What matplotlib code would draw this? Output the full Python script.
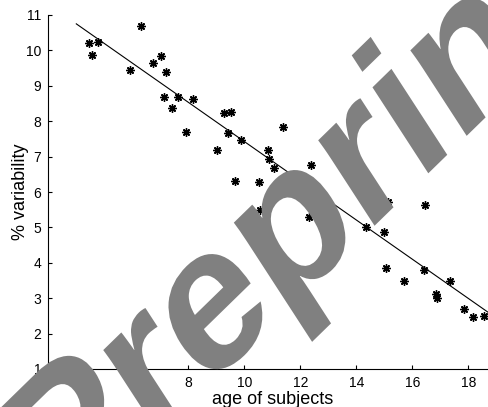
import numpy as np
import matplotlib
matplotlib.use('Agg')
import matplotlib.pyplot as plt
from matplotlib.textpath import TextPath
from matplotlib.font_manager import FontProperties
from matplotlib.patches import PathPatch
from matplotlib.transforms import Affine2D, IdentityTransform

plt.rcParams['font.family'] = ['Liberation Sans', 'DejaVu Sans']

# measured points (age, % variability)
age = [4.45, 4.56, 4.79, 5.92, 6.32, 6.74, 7.01, 7.19, 7.13, 7.64,
       7.41, 8.17, 7.93, 9.04, 9.28, 9.53, 9.43, 9.88, 9.67, 11.39,
       10.86, 10.88, 11.07, 12.38, 10.53, 16.45, 15.14, 10.56, 12.32, 14.34,
       14.99, 15.05, 15.71, 16.43, 17.35, 16.86, 16.87, 17.84, 18.18, 18.55]
variability = [10.22, 9.88, 10.25, 9.44, 10.69, 9.64, 9.85, 9.38, 8.69, 8.68,
               8.36, 8.64, 7.69, 7.19, 8.24, 8.27, 7.68, 7.46, 6.30, 7.84,
               7.19, 6.94, 6.69, 6.75, 6.27, 5.64, 5.73, 5.49, 5.30, 5.00,
               4.87, 3.86, 3.49, 3.81, 3.49, 3.12, 3.00, 2.70, 2.48, 2.49]

# regression line end points
fit_x = [4.0, 19.0]
fit_y = [10.75, 2.44]

xticks = [4, 6, 8, 10, 12, 14, 16, 18]
yticks = [1, 2, 3, 4, 5, 6, 7, 8, 9, 10, 11]

W, H = 489, 407
fig = plt.figure(figsize=(W / 100, H / 100), dpi=100)
ax = fig.add_axes([48.3 / W, 38 / H, (496.3 - 48.3) / W, (392 - 38) / H])

ax.plot(fit_x, fit_y, color='k', lw=0.8)
ax.plot(age, variability, ls='none', marker=(8, 2, 0), ms=6, mew=1.0,
        color='k')

ax.set_xlim(3, 19)
ax.set_ylim(1, 11)
ax.set_xticks(xticks)
ax.set_yticks(yticks)
ax.spines['top'].set_visible(False)
ax.spines['right'].set_visible(False)
for s in ['left', 'bottom']:
    ax.spines[s].set_linewidth(0.8)
ax.tick_params(direction='in', length=3, width=0.8, labelsize=10, pad=5)
ax.set_xlabel('age of subjects', fontsize=13, labelpad=1)
ax.set_ylabel('% variability', fontsize=13, labelpad=-2.5)

# "Preprint" watermark, slanted across the plot
prop = FontProperties(family='Liberation Sans', weight='bold')
S = 100
word = TextPath((0, 0), 'Preprint', size=S, prop=prop)
ext_pri = TextPath((0, 0), 'Prepri', size=S, prop=prop).get_extents()
ext_i = TextPath((0, 0), 'i', size=S, prop=prop).get_extents()
i_x0 = ext_pri.x1 - ext_i.width

t1 = np.radians(44.3)
t2 = np.radians(123)
a = 1.93
b = 100.7 / (0.519 * S)
m = np.array([[a * np.cos(t1), b * np.cos(t2)],
              [a * np.sin(t1), b * np.sin(t2)]])
target = np.array([428.3, H - 173.3])
off = target - m @ np.array([i_x0, 0.0])
mat = np.array([[m[0, 0], m[0, 1], off[0]],
                [m[1, 0], m[1, 1], off[1]],
                [0, 0, 1]])
wm = Affine2D(mat).transform_path(word)
fig.add_artist(PathPatch(wm, facecolor='#808080', edgecolor='none',
                         transform=IdentityTransform(), zorder=10))

fig.savefig('out.png', dpi=100)
